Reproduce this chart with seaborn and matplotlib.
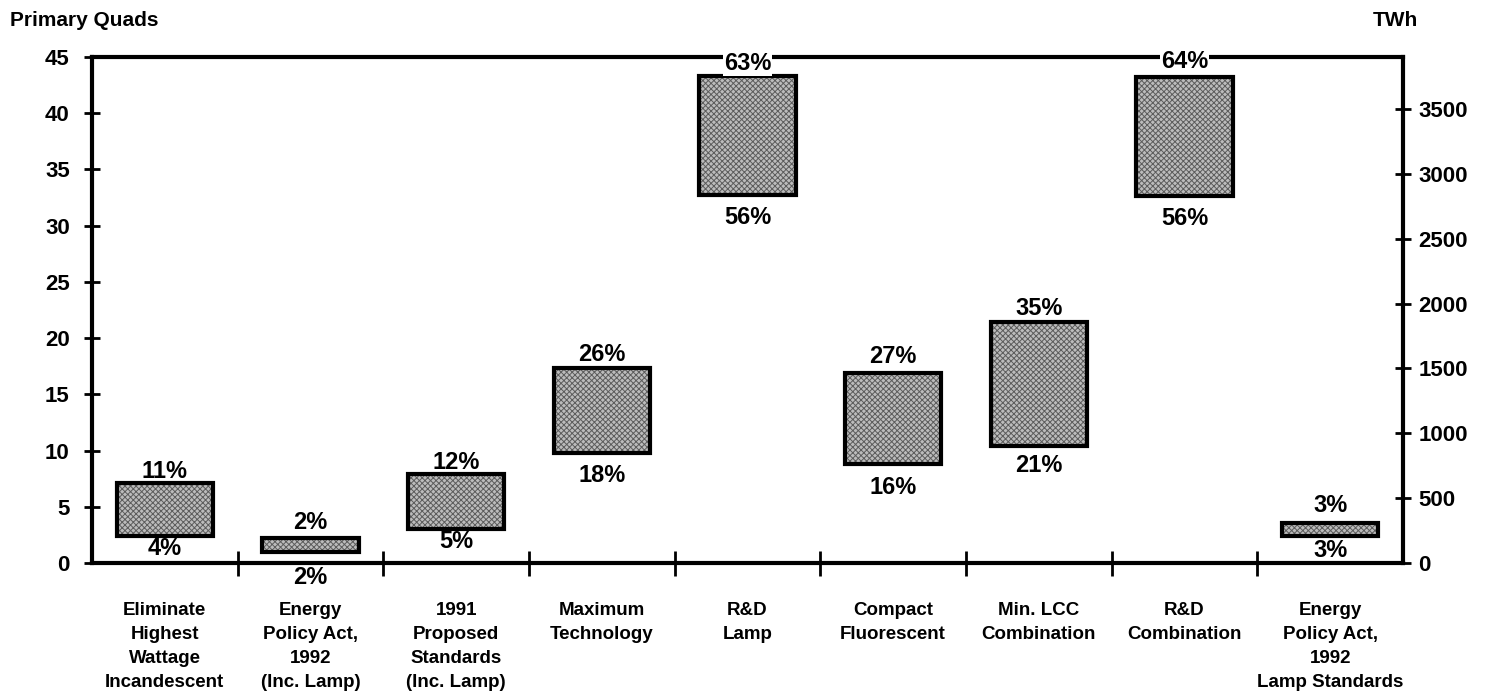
import matplotlib
matplotlib.use("Agg")
import matplotlib.pyplot as plt
import seaborn as sns
import pandas as pd
import numpy as np

# ---------------- data ----------------
categories = [
    "Eliminate\nHighest\nWattage\nIncandescent",
    "Energy\nPolicy Act,\n1992\n(Inc. Lamp)",
    "1991\nProposed\nStandards\n(Inc. Lamp)",
    "Maximum\nTechnology",
    "R&D\nLamp",
    "Compact\nFluorescent",
    "Min. LCC\nCombination",
    "R&D\nCombination",
    "Energy\nPolicy Act,\n1992\nLamp Standards",
]
low_quads = [2.4, 1.0, 3.0, 9.8, 32.7, 8.8, 10.4, 32.6, 2.4]
high_quads = [7.1, 2.2, 7.9, 17.3, 43.3, 16.9, 21.4, 43.2, 3.6]
low_pct = [4, 2, 5, 18, 56, 16, 21, 56, 3]
high_pct = [11, 2, 12, 26, 63, 27, 35, 64, 3]
left_ticks = [0, 5, 10, 15, 20, 25, 30, 35, 40, 45]
right_ticks = [0, 500, 1000, 1500, 2000, 2500, 3000, 3500]
twh_per_quad = 86.7

# label offsets in pixels : layout only
top_off_px = [12, 16, 12, 14, 13, 16, 14, 16, 17]
bot_off_px = [12, 26, 12, 23, 22, 23, 19, 22, 14]

# ---------------- style ----------------
sns.set_style("ticks")
plt.rcParams["font.family"] = ["Liberation Sans", "DejaVu Sans"]
plt.rcParams["font.weight"] = "bold"
plt.rcParams["hatch.linewidth"] = 0.7
for k in ["text.color", "axes.edgecolor", "axes.labelcolor", "xtick.color",
          "ytick.color", "xtick.labelcolor", "ytick.labelcolor"]:
    plt.rcParams[k] = "black"

W, H = 1489, 700
fig = plt.figure(figsize=(W / 100, H / 100), dpi=100)
L, R, B, T = 92, 1403, 563, 57
ax = fig.add_axes([L / W, 1 - B / H, (R - L) / W, (B - T) / H])

df = pd.DataFrame({
    "category": categories,
    "low": low_quads,
    "span": np.subtract(high_quads, low_quads),
})

# textured fill
sns.barplot(data=df, x="category", y="span", bottom=low_quads, width=0.66,
            color="#bcbcbc", saturation=1, hatch="xxxxxx", edgecolor="#5c5c5c",
            linewidth=0, errorbar=None, ax=ax)
# black outline
sns.barplot(data=df, x="category", y="span", bottom=low_quads, width=0.66,
            color="black", fill=False, linewidth=3, errorbar=None, ax=ax)

ax.set_xlim(-0.5, len(categories) - 0.5)
ax.set_ylim(0, 45)
ax.set_xlabel("")
ax.set_ylabel("")

# right axis (TWh)
ax2 = ax.twinx()
ax2.set_ylim(0, 45 * twh_per_quad)
ax2.set_yticks(right_ticks)
ax2.set_yticklabels([str(v) for v in right_ticks], fontweight="bold")
ax2.tick_params(axis="y", direction="inout", length=12, width=2, pad=5,
                labelsize=16, colors="black")
for name, s in ax2.spines.items():
    s.set_visible(name == "right")
    s.set_linewidth(3)
    s.set_color("black")
ax2.set_zorder(0)
ax.set_zorder(1)
ax.patch.set_visible(False)

for name, s in ax.spines.items():
    s.set_linewidth(3)
    s.set_visible(name != "right")
    s.set_color("black")
    s.set_zorder(2)

ax.set_yticks(left_ticks)
ax.set_yticklabels([str(v) for v in left_ticks], fontweight="bold")
ax.tick_params(axis="y", direction="inout", length=12, width=2, pad=10,
               labelsize=16, colors="black")

ax.set_xticks(range(len(categories)))
ax.set_xticklabels(categories, fontsize=13.5, linespacing=1.55, fontweight="bold")
ax.set_xticks(np.arange(0.5, len(categories) - 1), minor=True)
ax.tick_params(axis="x", which="major", length=0, pad=28)
ax.tick_params(axis="x", which="minor", direction="inout", length=18, width=2,
               colors="black")

# percentage labels
for i in range(len(categories)):
    on_spine = high_quads[i] > 41
    ax.annotate(f"{high_pct[i]}%", xy=(i, high_quads[i]),
                xytext=(0, top_off_px[i] * 0.72), textcoords="offset points",
                ha="center", va="center", fontsize=17, fontweight="bold", zorder=10,
                bbox=(dict(facecolor="white", edgecolor="none", pad=0.6) if on_spine else None),
                annotation_clip=False)
    ax.annotate(f"{low_pct[i]}%", xy=(i, low_quads[i]),
                xytext=(0, -bot_off_px[i] * 0.72), textcoords="offset points",
                ha="center", va="center", fontsize=17, fontweight="bold", zorder=10,
                annotation_clip=False)

fig.text(10 / W, 1 - 21 / H, "Primary Quads", ha="left", va="center",
         fontsize=15, fontweight="bold")
fig.text(1395 / W, 1 - 20 / H, "TWh", ha="center", va="center",
         fontsize=15, fontweight="bold")

fig.savefig("out.png", dpi=100, facecolor="white")
